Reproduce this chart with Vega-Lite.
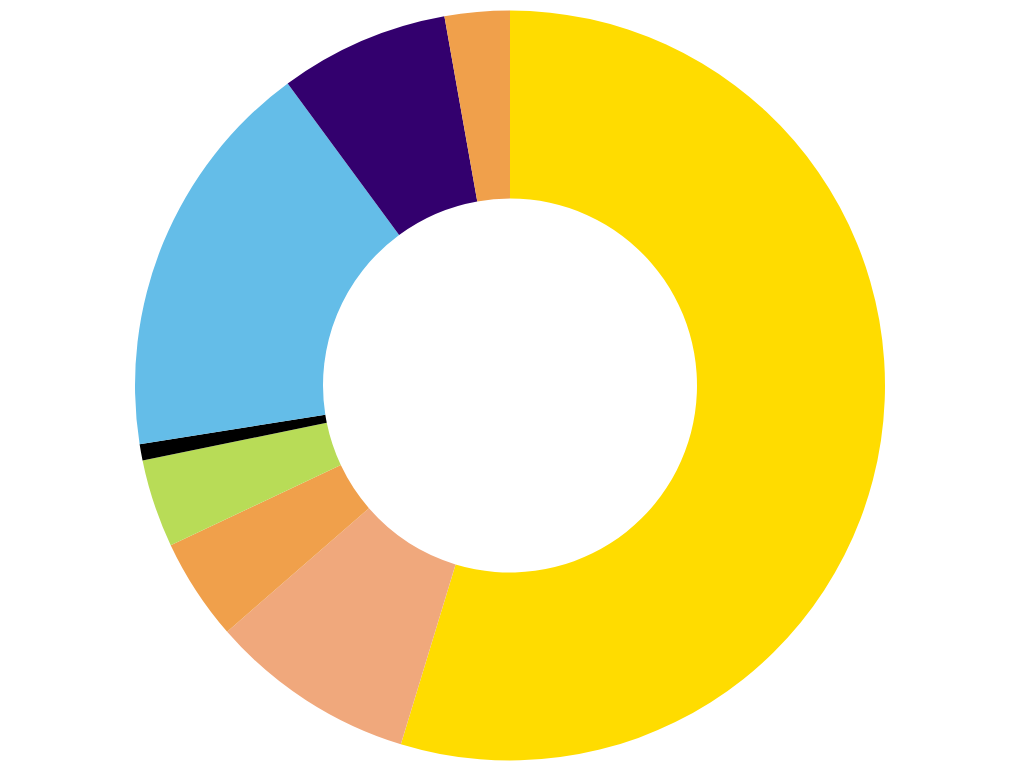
{
  "$schema": "https://vega.github.io/schema/vega-lite/v6.json",
  "width": 1020,
  "height": 765,
  "padding": {"left": 0, "top": 3, "right": 0, "bottom": 0},
  "config": {"view": {"stroke": null}},
  "data": {
    "values": [
      {"category": "A", "share": 54.7, "rank": 1},
      {"category": "B", "share": 8.9, "rank": 2},
      {"category": "C", "share": 4.4, "rank": 3},
      {"category": "D", "share": 3.8, "rank": 4},
      {"category": "E", "share": 0.7, "rank": 5},
      {"category": "F", "share": 17.4, "rank": 6},
      {"category": "G", "share": 7.3, "rank": 7},
      {"category": "H", "share": 2.8, "rank": 8}
    ]
  },
  "mark": {"type": "arc", "outerRadius": 375, "innerRadius": 187},
  "encoding": {
    "theta": {"field": "share", "type": "quantitative", "stack": true},
    "order": {"field": "rank", "type": "quantitative", "sort": "ascending"},
    "color": {
      "field": "category",
      "type": "nominal",
      "legend": null,
      "scale": {
        "domain": ["A", "B", "C", "D", "E", "F", "G", "H"],
        "range": ["#FFDC00", "#F0A87C", "#F0A04B", "#B8DC57", "#000000", "#64BDE8", "#33006E", "#F0A04B"]
      }
    }
  }
}
